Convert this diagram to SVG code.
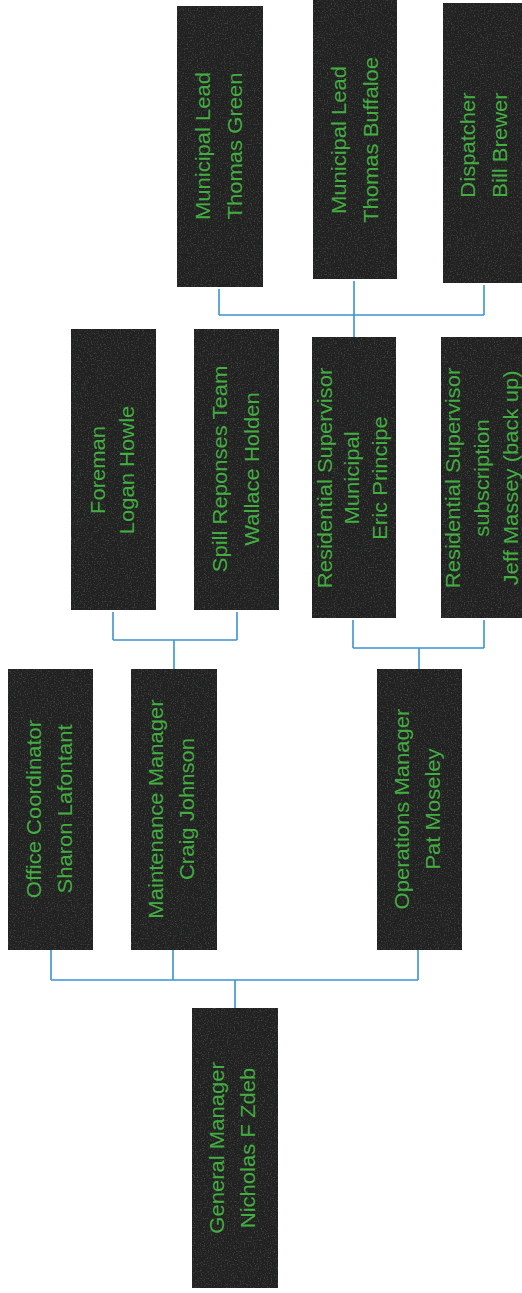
<svg xmlns="http://www.w3.org/2000/svg" width="522" height="1293" viewBox="0 0 522 1293">
  <style>
    .box { fill: #313331; filter: url(#grain); }
    .t { fill: #44ad42; font-family: "Liberation Sans", Arial, sans-serif; font-size: 21px; text-anchor: middle; dominant-baseline: central; }
    .c { stroke: #3a93d4; stroke-width: 1.6; fill: none; }
  </style>
  <defs>
    <filter id="grain" x="0" y="0" width="100%" height="100%">
      <feTurbulence type="fractalNoise" baseFrequency="0.7" numOctaves="2" seed="4" result="n"/>
      <feColorMatrix in="n" type="matrix" values="0 0 0 0 0.5  0 0 0 0 0.5  0 0 0 0 0.5  1 0 0 0 -0.5" result="g"/>
      <feComposite in="SourceGraphic" in2="g" operator="arithmetic" k1="0" k2="1" k3="0.25" k4="-0.02" result="m"/>
      <feComposite in="m" in2="SourceGraphic" operator="in"/>
    </filter>
  </defs>
  <rect width="522" height="1293" fill="#ffffff"/>

  <g id="connectors">
    <path class="c" d="M219 289 V315 M354 281 V337 M484 285 V315 M219 315 H484"/>
    <path class="c" d="M113 612 V640 M237 612 V640 M113 640 H237 M174 640 V669"/>
    <path class="c" d="M353 620 V648 M484 620 V648 M353 648 H484 M419 648 V669"/>
    <path class="c" d="M51 950 V980 M173 950 V980 M418 950 V980 M51 980 H418 M235 980 V1008"/>
  </g>

  <g id="thomas-green">
    <rect class="box" x="177" y="6" width="86" height="281"/>
    <g transform="translate(220 146) rotate(-90) scale(1.05 1)">
      <text class="t" y="-17">Municipal Lead</text>
      <text class="t" y="15">Thomas Green</text>
    </g>
  </g>
  <g id="thomas-buffaloe">
    <rect class="box" x="313" y="0" width="84" height="279"/>
    <g transform="translate(355 140) rotate(-90) scale(1.05 1)">
      <text class="t" y="-16">Municipal Lead</text>
      <text class="t" y="16">Thomas Buffaloe</text>
    </g>
  </g>
  <g id="bill-brewer">
    <rect class="box" x="443" y="3" width="85" height="280"/>
    <g transform="translate(485.5 145) rotate(-90) scale(1.05 1)">
      <text class="t" y="-17.5">Dispatcher</text>
      <text class="t" y="14.5">Bill Brewer</text>
    </g>
  </g>
  <g id="logan-howle">
    <rect class="box" x="71" y="329" width="85" height="281"/>
    <g transform="translate(113.5 470) rotate(-90) scale(1.05 1)">
      <text class="t" y="-15.5">Foreman</text>
      <text class="t" y="14">Logan Howle</text>
    </g>
  </g>
  <g id="wallace-holden">
    <rect class="box" x="194" y="329" width="85" height="281"/>
    <g transform="translate(236.5 469) rotate(-90) scale(1.05 1)">
      <text class="t" y="-16.5">Spill Reponses Team</text>
      <text class="t" y="15.5">Wallace Holden</text>
    </g>
  </g>
  <g id="eric-principe">
    <rect class="box" x="312" y="337" width="84" height="281"/>
    <g transform="translate(354 478) rotate(-90) scale(1.05 1)">
      <text class="t" y="-29">Residential Supervisor</text>
      <text class="t" y="-2">Municipal</text>
      <text class="t" y="26">Eric Principe</text>
    </g>
  </g>
  <g id="jeff-massey">
    <rect class="box" x="441" y="337" width="85" height="281"/>
    <g transform="translate(483.5 478) rotate(-90) scale(1.05 1)">
      <text class="t" y="-30.5">Residential Supervisor</text>
      <text class="t" y="-1.5">subscription</text>
      <text class="t" y="27.5">Jeff Massey (back up)</text>
    </g>
  </g>
  <g id="sharon-lafontant">
    <rect class="box" x="8" y="669" width="85" height="281"/>
    <g transform="translate(50.5 809) rotate(-90) scale(1.05 1)">
      <text class="t" y="-16.5">Office Coordinator</text>
      <text class="t" y="14.5">Sharon Lafontant</text>
    </g>
  </g>
  <g id="craig-johnson">
    <rect class="box" x="131" y="669" width="86" height="281"/>
    <g transform="translate(174 809) rotate(-90) scale(1.05 1)">
      <text class="t" y="-18">Maintenance Manager</text>
      <text class="t" y="13">Craig Johnson</text>
    </g>
  </g>
  <g id="pat-moseley">
    <rect class="box" x="377" y="669" width="85" height="281"/>
    <g transform="translate(419.5 809) rotate(-90) scale(1.05 1)">
      <text class="t" y="-17.5">Operations Manager</text>
      <text class="t" y="13.5">Pat Moseley</text>
    </g>
  </g>
  <g id="nicholas-zdeb">
    <rect class="box" x="192" y="1008" width="86" height="280"/>
    <g transform="translate(235 1148) rotate(-90) scale(1.05 1)">
      <text class="t" y="-18">General Manager</text>
      <text class="t" y="13">Nicholas F Zdeb</text>
    </g>
  </g>
</svg>
